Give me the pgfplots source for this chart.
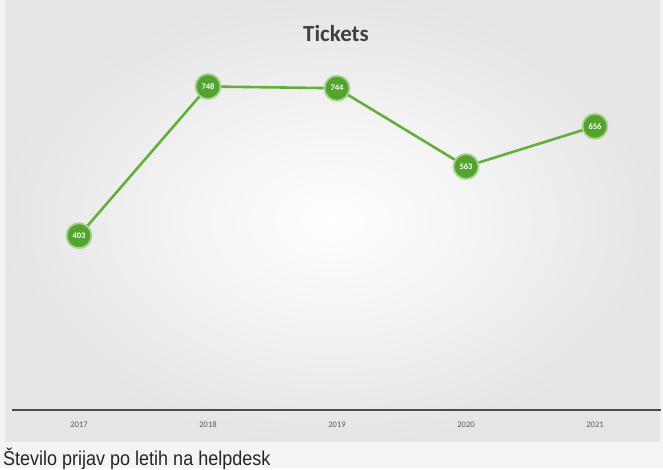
\documentclass[border=0pt]{standalone}
\usepackage{pgfplots}
\pgfplotsset{compat=1.18}
\usepackage{fontspec}
\setmainfont{Carlito}
\newfontfamily\capfont{Liberation Sans}
\definecolor{lgreen}{RGB}{100,174,60}
\definecolor{mgreen}{RGB}{82,164,44}
\begin{document}
\begin{tikzpicture}[x=1pt,y=1pt]
\fill[gray!9] (0,0) rectangle (663,468);
\shade[inner color=white, outer color=gray!20] (5,27) rectangle (660,468);
\node[font=\bfseries\fontsize{23}{26}\selectfont, text=black!75] at (336,434) {Tickets};
\node[anchor=base west, inner sep=0pt] at (3,3) {\scalebox{0.9}[1]{\capfont\fontsize{20}{22}\selectfont\color{black!85}Število prijav po letih na helpdesk}};
\begin{axis}[
  at={(14.5pt,58pt)}, anchor=south west,
  scale only axis, width=645pt, height=346pt,
  xmin=-0.5, xmax=4.5, ymin=0, ymax=800,
  axis y line=none,
  axis x line=bottom,
  x axis line style={black!70, line width=1.8pt, -, shorten <=-3pt, shorten >=-1pt},
  xtick={0,1,2,3,4},
  xticklabels={2017,2018,2019,2020,2021},
  major tick length=0pt,
  xticklabel style={font=\fontsize{8.5}{9}\selectfont, text=black!65, yshift=-8pt},
  clip=false,
]
\addplot[lgreen, line width=2.6pt, mark=*, mark size=12.5pt,
  mark options={fill=mgreen, draw=lgreen!55, line width=1.8pt},
  nodes near coords, point meta=explicit symbolic,
  every node near coord/.append style={anchor=center, text=white, font=\bfseries\fontsize{8.5}{9}\selectfont}]
  table[meta=label] {
x y label
0 403 403
1 748 748
2 744 744
3 563 563
4 656 656
};
\end{axis}
\end{tikzpicture}
\end{document}
